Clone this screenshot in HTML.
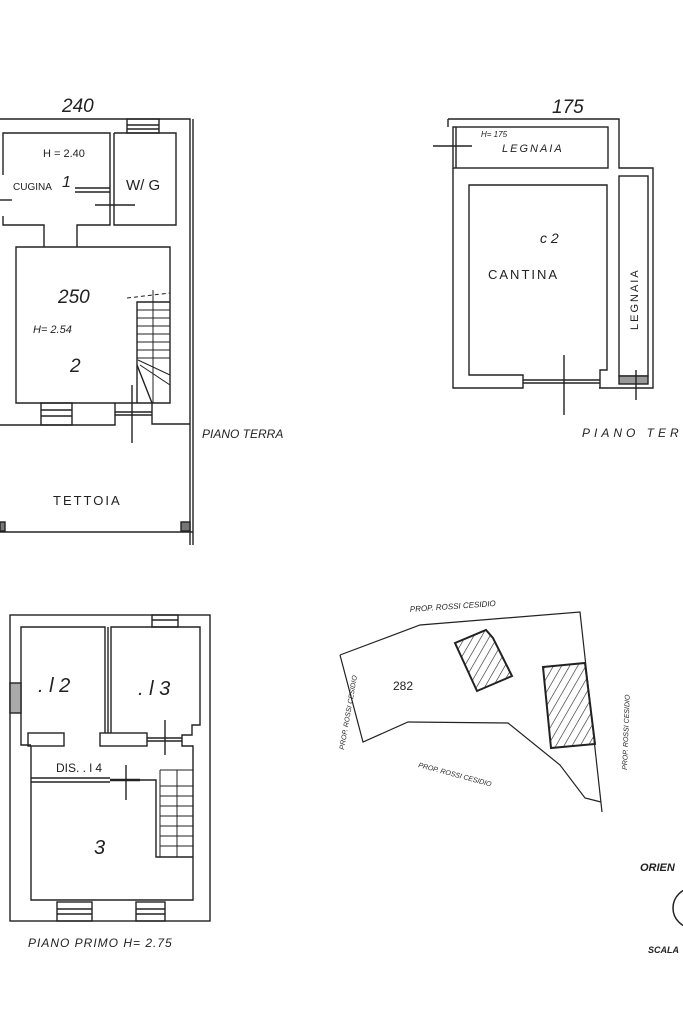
<!DOCTYPE html>
<html><head><meta charset="utf-8"><style>
html,body{margin:0;padding:0;background:#fff;}
svg{display:block;}
text{font-family:"Liberation Sans",sans-serif;fill:#222;}
</style></head><body>
<svg width="683" height="1025" viewBox="0 0 683 1025" xmlns="http://www.w3.org/2000/svg">
<defs>
<pattern id="h" width="7" height="7" patternUnits="userSpaceOnUse" patternTransform="rotate(30)">
<line x1="0" y1="0" x2="0" y2="7" stroke="#222" stroke-width="1.2"/></pattern>
</defs>
<g fill="none" stroke="#222" stroke-width="1.4">
<polyline points="0,119 190,119 190,545"/>
<line x1="193" y1="119" x2="193" y2="545"/>
<rect x="127" y="119" width="32" height="14"/>
<line x1="127" y1="125" x2="159" y2="125"/><line x1="127" y1="129" x2="159" y2="129"/>
<polyline points="3,175 3,133 110,133 110,225 77,225 77,247 16,247 16,403 170,403 170,247 77,247"/>
<polyline points="114,133 176,133 176,225 114,225 114,133"/>
<polyline points="3,216 3,225 44,225 44,247"/>
<line x1="0" y1="200" x2="12" y2="200"/>
<line x1="75" y1="188" x2="110" y2="188"/><line x1="75" y1="192" x2="110" y2="192"/>
<line x1="95" y1="205" x2="135" y2="205"/>
<polyline points="0,425 115,425 115,403"/>
<rect x="41" y="403" width="31" height="22"/>
<line x1="41" y1="410" x2="72" y2="410"/><line x1="41" y1="416" x2="72" y2="416"/>
<line x1="115" y1="412" x2="152" y2="412"/><line x1="115" y1="415" x2="152" y2="415"/>
<polyline points="152,403 152,424 190,424"/>
<line x1="132" y1="385" x2="132" y2="443"/>
<polyline points="137,403 137,302 170,302"/>
<g stroke-width="1">
<line x1="137" y1="310" x2="170" y2="310"/><line x1="137" y1="318" x2="170" y2="318"/>
<line x1="137" y1="326" x2="170" y2="326"/><line x1="137" y1="334" x2="170" y2="334"/>
<line x1="137" y1="342" x2="170" y2="342"/><line x1="137" y1="350" x2="170" y2="350"/>
<line x1="137" y1="358" x2="170" y2="358"/><line x1="140" y1="365" x2="170" y2="385"/>
<line x1="138" y1="360" x2="170" y2="375"/><line x1="153" y1="290" x2="153" y2="403"/>
<line x1="127" y1="298" x2="170" y2="293" stroke-dasharray="4 3"/>
</g>
<polyline points="137,365 152,403"/>
<line x1="0" y1="532" x2="193" y2="532"/>
<rect x="181" y="522" width="9" height="9" fill="#777"/>
<rect x="0" y="522" width="5" height="9" fill="#777"/>

<polyline points="448,119 619,119 619,168 653,168 653,388 599,388"/>
<line x1="448" y1="119" x2="448" y2="127"/>
<rect x="453" y="127" width="155" height="41"/>
<line x1="456" y1="127" x2="456" y2="168"/>
<line x1="433" y1="146" x2="472" y2="146"/>
<polyline points="453,168 453,388 523,388 523,375 469,375 469,185 607,185 607,370 600,370 600,388"/>
<line x1="523" y1="380" x2="600" y2="380"/><line x1="523" y1="383" x2="600" y2="383"/>
<rect x="619" y="176" width="29" height="200"/>
<rect x="619" y="376" width="29" height="8" fill="#999"/>
<line x1="564" y1="355" x2="564" y2="415"/>
<line x1="636" y1="370" x2="636" y2="400"/>

<rect x="10" y="615" width="200" height="306"/>
<polyline points="31,745 21,745 21,627 105,627 105,733"/>
<line x1="108" y1="627" x2="108" y2="733"/>
<rect x="28" y="733" width="36" height="13"/>
<polyline points="111,733 111,627 200,627 200,725 192,725 192,735 182,735 182,746 193,746 193,900 31,900 31,746"/>
<rect x="100" y="733" width="47" height="13"/>
<line x1="147" y1="738" x2="182" y2="738"/><line x1="147" y1="741" x2="182" y2="741"/>
<line x1="31" y1="778" x2="110" y2="778"/><line x1="31" y1="782" x2="110" y2="782"/>
<line x1="110" y1="780" x2="140" y2="780" stroke-width="2.5"/>
<line x1="165" y1="720" x2="165" y2="755"/>
<line x1="126" y1="765" x2="126" y2="800"/>
<polyline points="140,780 156,780 156,857 193,857"/>
<g stroke-width="1">
<line x1="160" y1="770" x2="160" y2="857"/>
<line x1="160" y1="770" x2="193" y2="770"/>
<line x1="160" y1="786" x2="193" y2="786"/><line x1="160" y1="796" x2="193" y2="796"/>
<line x1="160" y1="806" x2="193" y2="806"/><line x1="160" y1="816" x2="193" y2="816"/>
<line x1="160" y1="826" x2="193" y2="826"/><line x1="160" y1="836" x2="193" y2="836"/>
<line x1="160" y1="846" x2="193" y2="846"/>
<line x1="177" y1="770" x2="177" y2="857"/>
</g>
<rect x="57" y="902" width="35" height="19"/><line x1="57" y1="909" x2="92" y2="909"/><line x1="57" y1="914" x2="92" y2="914"/>
<rect x="136" y="902" width="29" height="19"/><line x1="136" y1="909" x2="165" y2="909"/><line x1="136" y1="914" x2="165" y2="914"/>
<rect x="152" y="615" width="26" height="12"/><line x1="152" y1="620" x2="178" y2="620"/>
<rect x="10" y="683" width="11" height="30" fill="#aaa"/>

<polyline points="340,655 420,625 580,612 602,812" stroke-width="1.2"/>
<polyline points="340,655 363,742 408,722 508,723 560,765 585,798 601,802" stroke-width="1.2"/>
<polygon points="455,643 486,630 493,638 512,676 477,691" fill="url(#h)" stroke-width="2"/>
<polygon points="543,667 585,663 595,744 551,748" fill="url(#h)" stroke-width="2"/>

<circle cx="693" cy="908" r="20" stroke-width="1.5"/>
</g>

<g>
<text x="62" y="112" font-size="19" font-family="Liberation Serif" font-style="italic">240</text>
<text x="43" y="157" font-size="11">H = 2.40</text>
<text x="13" y="190" font-size="10">CUGINA</text>
<text x="62" y="187" font-size="16" font-style="italic">1</text>
<text x="126" y="190" font-size="15">W/ G</text>
<text x="58" y="303" font-size="19" font-style="italic">250</text>
<text x="33" y="333" font-size="11" font-style="italic">H= 2.54</text>
<text x="70" y="372" font-size="19" font-style="italic">2</text>
<text x="202" y="438" font-size="12" font-style="italic">PIANO TERRA</text>
<text x="53" y="505" font-size="13" letter-spacing="2">TETTOIA</text>

<text x="552" y="113" font-size="19" font-style="italic">175</text>
<text x="481" y="137" font-size="8" font-style="italic">H= 175</text>
<text x="502" y="152" font-size="11" font-style="italic" letter-spacing="2">LEGNAIA</text>
<text x="540" y="243" font-size="14" font-style="italic">c 2</text>
<text x="488" y="279" font-size="13" letter-spacing="2">CANTINA</text>
<text x="0" y="0" font-size="11" letter-spacing="2" transform="translate(638,330) rotate(-90)">LEGNAIA</text>
<text x="582" y="437" font-size="12" font-style="italic" letter-spacing="4">PIANO TERRA</text>

<text x="38" y="692" font-size="20" font-style="italic">. l 2</text>
<text x="138" y="695" font-size="20" font-style="italic">. l 3</text>
<text x="56" y="772" font-size="12">DIS. . l 4</text>
<text x="94" y="854" font-size="20" font-style="italic">3</text>
<text x="28" y="947" font-size="12" font-style="italic" letter-spacing="1">PIANO  PRIMO  H= 2.75</text>

<text x="410" y="612" font-size="8" font-style="italic" transform="rotate(-4 410 612)">PROP. ROSSI CESIDIO</text>
<text x="393" y="690" font-size="12">282</text>
<text x="0" y="0" font-size="7" font-style="italic" transform="translate(344,750) rotate(-80)">PROP. ROSSI CESIDIO</text>
<text x="0" y="0" font-size="7" font-style="italic" transform="translate(627,770) rotate(-88)">PROP. ROSSI CESIDIO</text>
<text x="418" y="767" font-size="7" font-style="italic" transform="rotate(15 418 767)">PROP. ROSSI CESIDIO</text>

<text x="640" y="871" font-size="11" font-family="Liberation Serif" font-weight="bold" font-style="italic">ORIEN</text>
<text x="648" y="953" font-size="9" font-family="Liberation Serif" font-weight="bold" font-style="italic">SCALA</text>
</g>
</svg>
</body></html>
